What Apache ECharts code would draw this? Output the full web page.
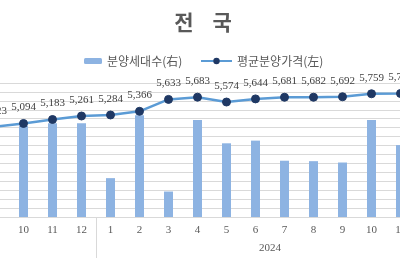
<!DOCTYPE html>
<html><head><meta charset="utf-8">
<script src="https://cdn.jsdelivr.net/npm/echarts/dist/echarts.min.js"></script>
<style>html,body{margin:0;padding:0;background:#fff;overflow:hidden;width:400px;height:260px;position:relative}
#c{position:absolute;left:-20px;top:0;width:464px;height:260px}</style>
</head><body><div id="c"></div>
<script>
// categories (2023-09 .. 2024-12); the chart is cropped at both sides
const months = ['9','10','11','12','1','2','3','4','5','6','7','8','9','10','11','12'];
const years  = ['2023','2023','2023','2023','2024','2024','2024','2024','2024','2024','2024','2024','2024','2024','2024','2024'];
// 분양세대수 (right axis, estimated)
const units  = [18000, 20400, 21000, 21000, 8700, 22800, 5700, 21700, 16500, 17100, 12600, 12500, 12200, 21700, 16100, 17000];
// 평균분양가격 (left axis)
const prices = [5023, 5094, 5183, 5261, 5284, 5366, 5633, 5683, 5574, 5644, 5681, 5682, 5692, 5759, 5765, 5817];
const priceTicks = {min: 3000, max: 6000, interval: 200};
const unitTicks = {min: 0, max: 30000};
const barName = '분양세대수(右)';
const lineName = '평균분양가격(左)';
const title = '전    국';

const chart = echarts.init(document.getElementById('c'), null, {renderer: 'canvas'});
const serif = 'Liberation Serif';
const kr = 'Noto Sans CJK KR';
chart.setOption({
  animation: false,
  backgroundColor: '#fff',
  title: {text: title, left: 218, textAlign: 'center', top: 7,
    textStyle: {fontFamily: kr, fontSize: 21, fontWeight: 'bold', color: '#595959'}},
  legend: [
    {data: [barName], left: 99, top: 50, itemWidth: 18, itemHeight: 6,
      textStyle: {fontFamily: kr, fontSize: 12, color: '#595959'}},
    {data: [lineName], left: 215, top: 50, itemWidth: 31, itemHeight: 8,
      textStyle: {fontFamily: kr, fontSize: 12, color: '#595959'}}
  ],
  grid: {left: 0, right: 0, top: 83, bottom: 43, containLabel: false},
  xAxis: [
    {type: 'category', data: months, gridIndex: 0,
      axisLine: {show: true, lineStyle: {color: '#d9d9d9', width: 1}},
      axisTick: {show: false},
      axisLabel: {margin: 8, fontFamily: serif, fontSize: 11, color: '#595959'}},
    {type: 'category', data: years, gridIndex: 0, position: 'bottom',
      axisLine: {show: false},
      axisTick: {show: true, length: 41, lineStyle: {color: '#d9d9d9'},
        interval: (i) => i === 0 || years[i] !== years[i - 1]},
      axisLabel: {margin: 26, fontFamily: serif, fontSize: 11, color: '#595959',
        interval: 0, padding: [0, 0, 0, 29],
        formatter: (v, i) => (i === 9 ? v : '')}}
  ],
  yAxis: [
    {type: 'value', min: priceTicks.min, max: priceTicks.max, interval: priceTicks.interval,
      axisLine: {show: false}, axisTick: {show: false}, axisLabel: {show: false},
      splitLine: {show: true, lineStyle: {color: '#d9d9d9', width: 1}}},
    {type: 'value', min: unitTicks.min, max: unitTicks.max,
      axisLine: {show: false}, axisTick: {show: false}, axisLabel: {show: false},
      splitLine: {show: false}}
  ],
  series: [
    {name: barName, type: 'bar', xAxisIndex: 0, yAxisIndex: 1, data: units,
      barWidth: 9, itemStyle: {color: '#8DB3E2'}},
    {name: lineName, type: 'line', xAxisIndex: 0, yAxisIndex: 0, data: prices, z: 5,
      symbol: 'circle', symbolSize: 8,
      lineStyle: {color: '#5B9BD5', width: 2.5},
      itemStyle: {color: '#1F3864', borderColor: '#1F3864'},
      label: {show: true, position: 'top', distance: 6, fontFamily: serif, fontSize: 11,
        color: '#404040', formatter: p => p.value.toLocaleString('en-US')}}
  ]
});
</script></body></html>
